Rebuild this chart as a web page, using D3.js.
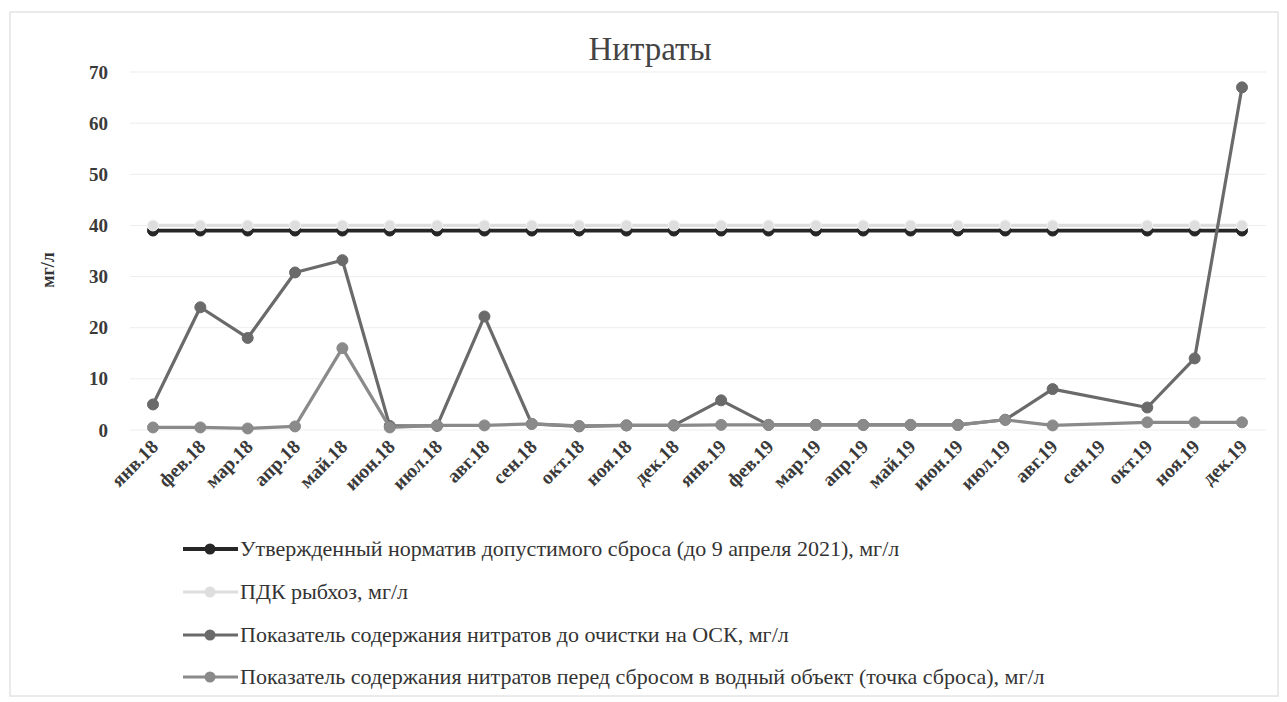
<!DOCTYPE html>
<html><head><meta charset="utf-8">
<script src="https://cdn.jsdelivr.net/npm/d3@7"></script>
<style>
html,body{margin:0;padding:0;background:#fff;}
svg{display:block;}
svg text{font-family:"Liberation Serif","Times New Roman","DejaVu Serif",serif;}
</style></head>
<body><svg id="chart" width="1287" height="702"></svg>
<script>
const months = ["янв.18","фев.18","мар.18","апр.18","май.18","июн.18","июл.18","авг.18","сен.18","окт.18","ноя.18","дек.18",
                "янв.19","фев.19","мар.19","апр.19","май.19","июн.19","июл.19","авг.19","сен.19","окт.19","ноя.19","дек.19"];
const yTicks = [0,10,20,30,40,50,60,70];
const normValues   = [39,39,39,39,39,39,39,39,39,39,39,39, 39,39,39,39,39,39,39,39,null,39,39,39];
const pdkValues    = [40,40,40,40,40,40,40,40,40,40,40,40, 40,40,40,40,40,40,40,40,null,40,40,40];
const beforeValues = [5,24,18,30.8,33.2,0.8,0.8,22.2,1.2,0.7,0.9,0.9, 5.8,1,1,1,1,1,2,8,null,4.4,14,67];
const afterValues  = [0.5,0.5,0.3,0.7,16,0.5,0.9,0.9,1.2,0.8,0.9,0.9, 1,1,1,1,1,1,2,0.9,null,1.5,1.5,1.5];
const seriesNames = ["Утвержденный норматив допустимого сброса (до 9 апреля 2021),  мг/л",
                     "ПДК рыбхоз, мг/л",
                     "Показатель содержания нитратов до очистки на ОСК, мг/л",
                     "Показатель содержания нитратов перед сбросом в водный объект (точка сброса), мг/л"];
const seriesColors = ["#262626","#dedede","#6a6a6a","#8a8a8a"];

const svg = d3.select("#chart");
const x = d3.scalePoint().domain(months).range([153, 1242]);
const y = d3.scaleLinear().domain([0,70]).range([430, 72]);

// frame
svg.append("rect").attr("x",10).attr("y",12).attr("width",1268).attr("height",684)
  .attr("fill","none").attr("stroke","#e4e4e4").attr("stroke-width",1.5);

// title
svg.append("text").attr("x",650).attr("y",60).attr("text-anchor","middle")
  .attr("font-size",33).attr("fill","#444").text("Нитраты");

// gridlines
svg.append("g").selectAll("line").data(yTicks).join("line")
  .attr("x1",130).attr("x2",1266).attr("y1",d=>y(d)).attr("y2",d=>y(d))
  .attr("stroke","#ededed").attr("stroke-width",1);

// y axis
const yAxis = svg.append("g").attr("transform","translate(110,0)")
  .call(d3.axisLeft(y).tickValues(yTicks).tickSize(0).tickPadding(2));
yAxis.select(".domain").remove();
yAxis.selectAll("text").attr("font-family",null).attr("font-size",19)
  .attr("font-weight","bold").attr("fill","#3a3a3a");

svg.append("text").attr("transform","translate(54,270) rotate(-90)").attr("text-anchor","middle")
  .attr("font-size",18).attr("font-weight","bold").attr("fill","#333").text("мг/л");

// x axis
const xAxis = svg.append("g").attr("transform","translate(0,437)")
  .call(d3.axisBottom(x).tickSize(0).tickPadding(0));
xAxis.select(".domain").remove();
xAxis.selectAll("text").attr("font-family",null).attr("font-size",19.5)
  .attr("font-weight","bold").attr("fill","#3a3a3a")
  .attr("text-anchor","end").attr("dy","0.35em")
  .attr("transform","translate(1,6) rotate(-45)");

// series
const allSeries = [normValues, pdkValues, beforeValues, afterValues];
const line = d3.line().x(d=>x(d.m)).y(d=>y(d.v));
allSeries.forEach((vals,i)=>{
  const pts = months.map((m,j)=>({m, v: vals[j]})).filter(d=>d.v!==null);
  const g = svg.append("g");
  g.append("path").datum(pts).attr("d",line).attr("fill","none")
    .attr("stroke",seriesColors[i]).attr("stroke-width",i===0?3.8:3.2).attr("stroke-linejoin","round");
  g.selectAll("circle").data(pts).join("circle")
    .attr("cx",d=>x(d.m)).attr("cy",d=>y(d.v)).attr("r",5.5)
    .attr("fill",seriesColors[i]).attr("stroke",i===1?"#f4f4f4":seriesColors[i]).attr("stroke-width",1);
});

// legend
const legY = [549, 592, 635, 677];
const leg = svg.append("g");
seriesNames.forEach((name,i)=>{
  const g = leg.append("g").attr("transform",`translate(0,${legY[i]})`);
  g.append("line").attr("x1",183).attr("x2",238).attr("y1",0).attr("y2",0)
    .attr("stroke",seriesColors[i]).attr("stroke-width",i===0?3.8:3.2);
  g.append("circle").attr("cx",210).attr("cy",0).attr("r",5.5).attr("fill",seriesColors[i]);
  g.append("text").attr("x",240).attr("y",0).attr("dy","0.33em").attr("font-size",22)
    .attr("fill","#333").text(name);
});
</script></body></html>
